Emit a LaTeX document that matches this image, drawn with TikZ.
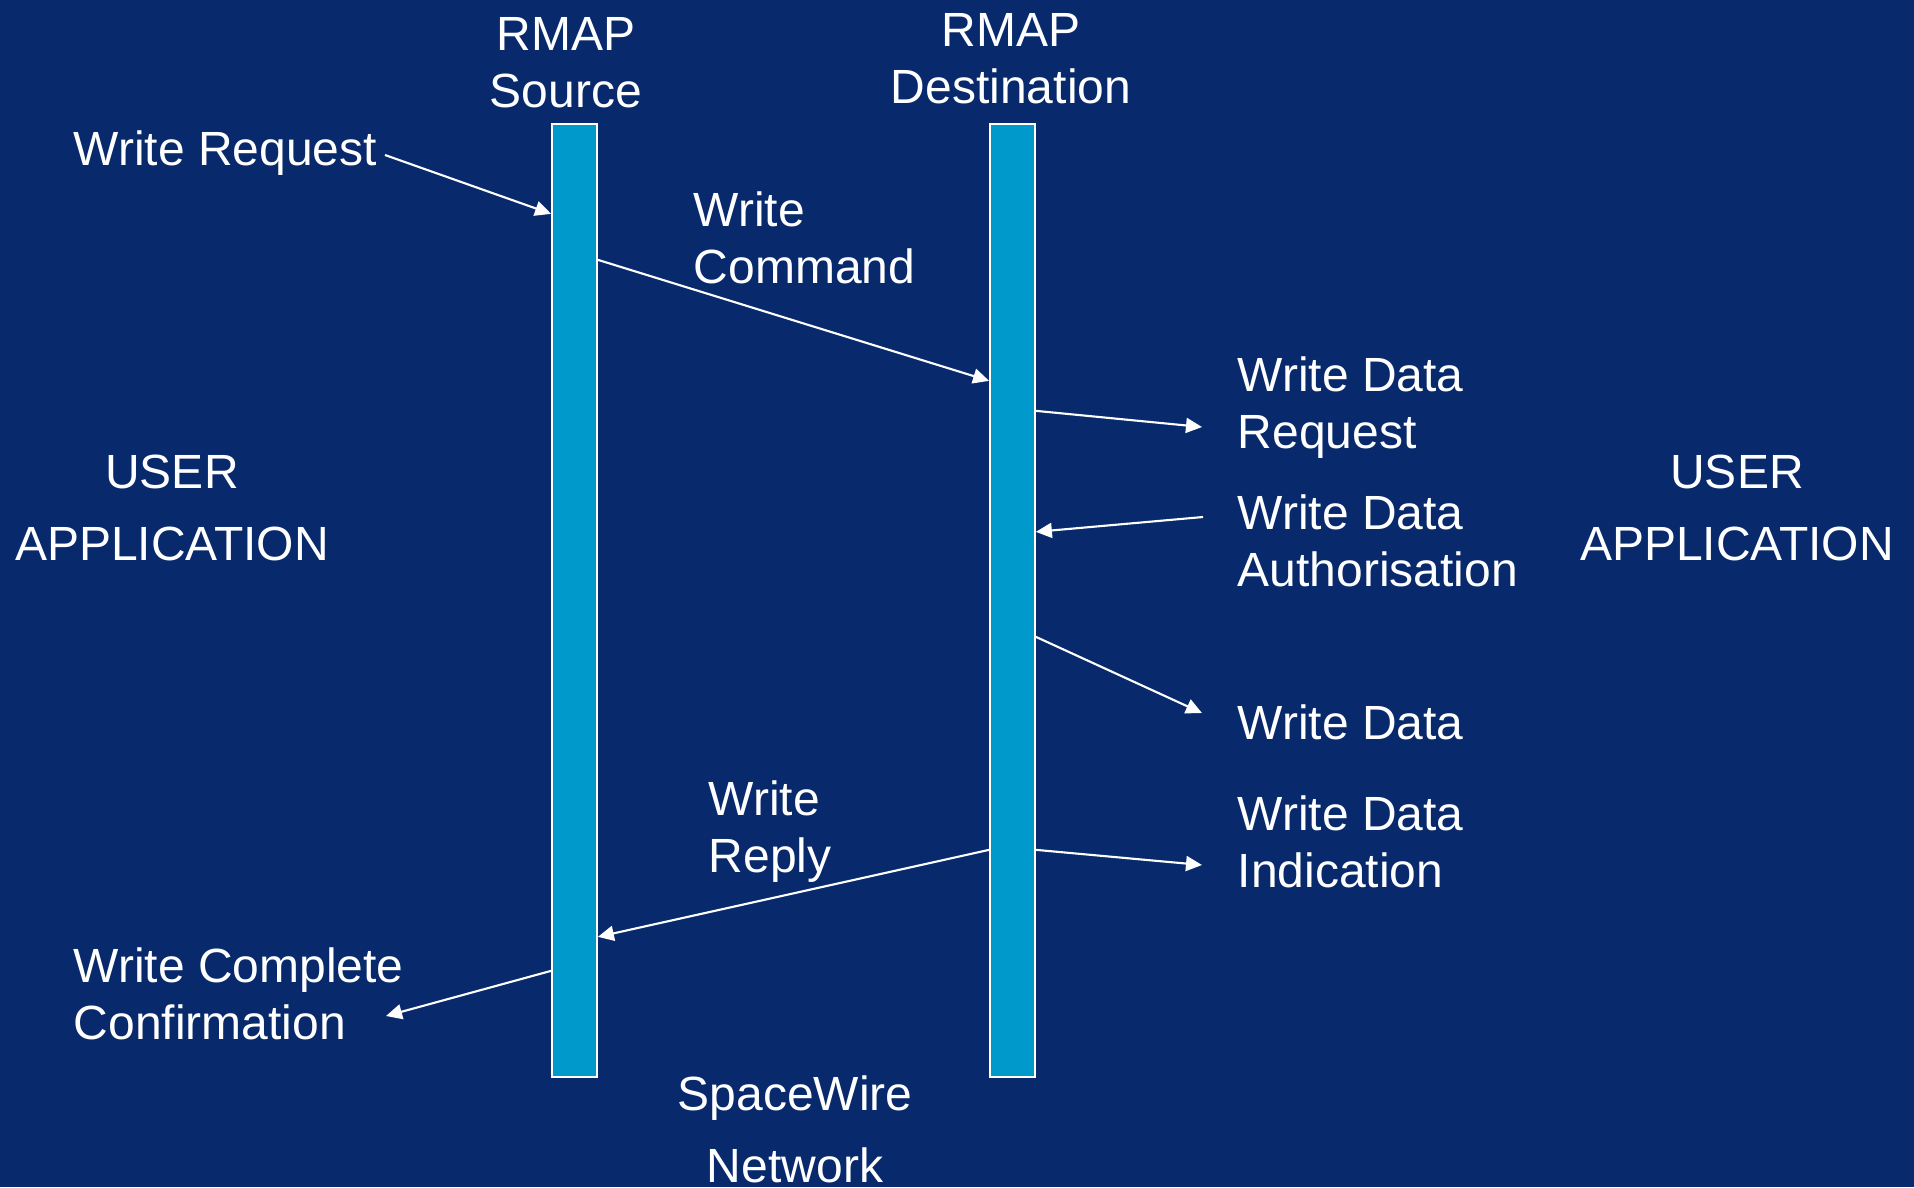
\documentclass[tikz,border=0pt]{standalone}
\usepackage{fontspec}
\setmainfont{Liberation Sans}
\usetikzlibrary{arrows.meta,calc}
\definecolor{navy}{RGB}{8,42,108}
\definecolor{barblue}{RGB}{0,153,204}
\tikzset{
  lbl/.style={text=white, inner sep=0pt, align=left, font=\fontsize{13.65}{16.2}\selectfont},
  wide/.style={lbl, align=center, font=\fontsize{13.65}{20.2}\selectfont},
  bar/.style={draw=white, line width=0.5pt, fill=barblue, minimum width=0.45cm, minimum height=9.53cm, inner sep=0pt},
  msg/.style={white, line width=0.6pt, -{Triangle[length=0.16cm,width=0.15cm]}}
}
\begin{document}
\begin{tikzpicture}[x=0.01cm,y=-0.01cm]
		\fill[navy] (0,0) rectangle (1914,1187);
		\useasboundingbox (0,0) rectangle (1914,1187);
		% the two end points (base = last line)
		\node[bar] (S) at (574.5,600.5) {};
		\node[bar] (D) at (1012.5,600.5) {};
		\node[lbl, align=center, anchor=base] (Sh) at (566,107) {RMAP\\Source};
		\node[lbl, align=center, anchor=base] (Dh) at (1011,103) {RMAP\\Destination};
		\node[wide, anchor=base] (userL) at (172,560) {USER\\APPLICATION};
		\node[wide, anchor=base] (userR) at (1737,560) {USER\\APPLICATION};
		\node[wide, anchor=base] (net) at (795,1182) {SpaceWire\\Network};
		% messages
		\node[lbl, anchor=base west] (wreq) at (73,165) {Write Request};
		\node[lbl, anchor=base west] (wcmd) at (693,283) {Write\\Command};
		\node[lbl, anchor=base west] (wdreq) at (1237,448) {Write Data\\Request};
		\node[lbl, anchor=base west] (wdauth) at (1237,586) {Write Data\\Authorisation};
		\node[lbl, anchor=base west] (wdata) at (1237,739) {Write Data};
		\node[lbl, anchor=base west] (wrep) at (708,872) {Write\\Reply};
		\node[lbl, anchor=base west] (wdind) at (1237,887) {Write Data\\Indication};
		\node[lbl, anchor=base west] (wcc) at (73,1039) {Write Complete\\Confirmation};
		\coordinate (wreqA) at (385,155);
		\coordinate (wdreqB) at (1202,427);
		\coordinate (wdauthA) at (1203,517);
		\coordinate (wdataB) at (1202,713);
		\coordinate (wdindB) at (1202,865);
		\coordinate (wccB) at (386,1016);
		\draw[msg] (wreqA) -- ($(S.north west) + (0,91)$);
		\draw[msg] ($(S.north east) + (0,137)$) -- ($(D.north west) + (0,258)$);
		\draw[msg] ($(D.north east) + (0,288)$) -- (wdreqB);
		\draw[msg] (wdauthA) -- ($(D.north east) + (0,409)$);
		\draw[msg] ($(D.north east) + (0,514)$) -- (wdataB);
		\draw[msg] ($(D.north east) + (0,727)$) -- (wdindB);
		\draw[msg] ($(D.north west) + (0,727)$) -- ($(S.north east) + (0,814)$);
		\draw[msg] ($(S.north west) + (0,848)$) -- (wccB);
	\end{tikzpicture}
\end{document}
